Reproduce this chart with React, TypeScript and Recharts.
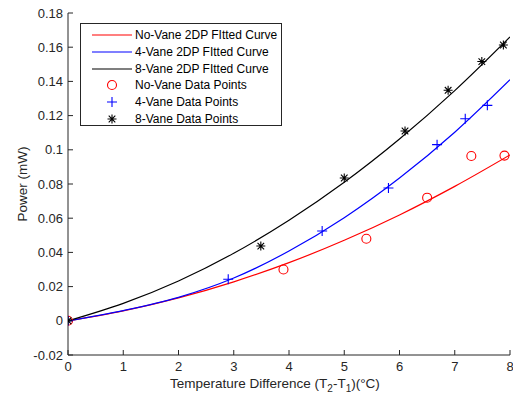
import React from "react";
import { ComposedChart, Line, Scatter, XAxis, YAxis } from "recharts";

// fitted curves, read at whole-degree steps
const curveX = [0, 1, 2, 3, 4, 5, 6, 7, 8];
const noVaneCurve = [0, 0.0058, 0.0134, 0.0228, 0.034, 0.0471, 0.0619, 0.0786, 0.097];
const fourVaneCurve = [0, 0.006, 0.0137, 0.025, 0.0408, 0.0603, 0.0835, 0.1103, 0.141];
const eightVaneCurve = [0, 0.0102, 0.0233, 0.0395, 0.0588, 0.081, 0.1063, 0.1346, 0.166];

// measured points
const noVaneX = [0, 3.9, 5.4, 6.5, 7.3, 7.9];
const noVaneY = [0, 0.03, 0.048, 0.072, 0.0964, 0.0966];
const fourVaneX = [0, 2.9, 4.6, 5.8, 6.68, 7.19, 7.59];
const fourVaneY = [0, 0.0243, 0.0525, 0.0777, 0.103, 0.1182, 0.126];
const eightVaneX = [0, 3.49, 5.0, 6.1, 6.88, 7.49, 7.88];
const eightVaneY = [0, 0.0437, 0.0835, 0.111, 0.1348, 0.1516, 0.1613];

const xTicks = [0, 1, 2, 3, 4, 5, 6, 7, 8];
const yTicks = [-0.02, 0, 0.02, 0.04, 0.06, 0.08, 0.1, 0.12, 0.14, 0.16, 0.18];

const legendNames = [
  "No-Vane 2DP FItted Curve",
  "4-Vane 2DP FItted Curve",
  "8-Vane 2DP FItted Curve",
  "No-Vane Data Points",
  "4-Vane Data Points",
  "8-Vane Data Points",
];

const FONT = "'Liberation Sans', Arial, sans-serif";
const AXIS = "#262626";

const toRows = (xs: number[], ys: number[]) => xs.map((x, i) => ({ x, y: ys[i] }));

const Circle = ({ cx, cy }: any) => (
  <circle cx={cx} cy={cy} r={4.5} fill="none" stroke="#ff0000" strokeWidth={1.1} />
);

const Plus = ({ cx, cy }: any) => (
  <path d={`M${cx - 5},${cy}H${cx + 5}M${cx},${cy - 5}V${cy + 5}`} stroke="#0000ff" strokeWidth={1.1} />
);

const Star = ({ cx, cy }: any) => (
  <path
    d={`M${cx - 4.5},${cy}H${cx + 4.5}M${cx},${cy - 4.5}V${cy + 4.5}M${cx - 3.3},${cy - 3.3}L${cx + 3.3},${cy + 3.3}M${cx - 3.3},${cy + 3.3}L${cx + 3.3},${cy - 3.3}`}
    stroke="#000"
    strokeWidth={1.1}
  />
);

const LegendIcon = ({ i }: { i: number }) => {
  const colors = ["#ff0000", "#0000ff", "#000000"];
  return (
    <svg width={54} height={14} style={{ display: "block" }}>
      {i < 3 ? (
        <line x1={11} x2={51} y1={7} y2={7} stroke={colors[i]} strokeWidth={1.2} />
      ) : i === 3 ? (
        <Circle cx={31} cy={7} />
      ) : i === 4 ? (
        <Plus cx={31} cy={7} />
      ) : (
        <Star cx={31} cy={7} />
      )}
    </svg>
  );
};

export default function App() {
  return (
    <div style={{ position: "relative", width: 513, height: 404, marginTop: -8, fontFamily: FONT }}>
      <ComposedChart
        width={513}
        height={404}
        margin={{ top: 13, right: 11, left: 0, bottom: 0 }}
        style={{ overflow: "visible" }}
      >
        <XAxis
          type="number"
          dataKey="x"
          domain={[0, 8]}
          ticks={xTicks}
          interval={0}
          height={49}
          stroke={AXIS}
          tickSize={-5}
          tickMargin={12}
          tick={{ fill: AXIS, fontSize: 13, fontFamily: FONT }}
          allowDataOverflow
        />
        <YAxis
          type="number"
          domain={[-0.02, 0.18]}
          ticks={yTicks}
          interval={0}
          width={60}
          stroke={AXIS}
          tickSize={-5}
          tickMargin={10}
          tick={{ fill: AXIS, fontSize: 13, fontFamily: FONT }}
          allowDataOverflow
        />
        <Line
          data={toRows(curveX, noVaneCurve)}
          dataKey="y"
          type="monotone"
          stroke="#ff0000"
          strokeWidth={1.2}
          dot={false}
          isAnimationActive={false}
        />
        <Line
          data={toRows(curveX, fourVaneCurve)}
          dataKey="y"
          type="monotone"
          stroke="#0000ff"
          strokeWidth={1.2}
          dot={false}
          isAnimationActive={false}
        />
        <Line
          data={toRows(curveX, eightVaneCurve)}
          dataKey="y"
          type="monotone"
          stroke="#000000"
          strokeWidth={1.2}
          dot={false}
          isAnimationActive={false}
        />
        <Scatter data={toRows(noVaneX, noVaneY)} dataKey="y" shape={<Circle />} isAnimationActive={false} />
        <Scatter data={toRows(fourVaneX, fourVaneY)} dataKey="y" shape={<Plus />} isAnimationActive={false} />
        <Scatter data={toRows(eightVaneX, eightVaneY)} dataKey="y" shape={<Star />} isAnimationActive={false} />
        <text
          x={14}
          y={184}
          transform="rotate(-90 14 184)"
          textAnchor="middle"
          dominantBaseline="central"
          fontSize={13.5}
          fill={AXIS}
          fontFamily={FONT}
        >
          Power (mW)
        </text>
        <text x={162} y={388} fontSize={13.5} fill={AXIS} fontFamily={FONT}>
          Temperature Difference (T
          <tspan fontSize={10} dy={4}>2</tspan>
          <tspan dy={-4}>-T</tspan>
          <tspan fontSize={10} dy={4}>1</tspan>
          <tspan dy={-4}>)(°C)</tspan>
        </text>
      </ComposedChart>
      <div
        style={{
          position: "absolute",
          left: 72,
          top: 23,
          width: 202,
          height: 103,
          border: `1px solid ${AXIS}`,
          background: "#fff",
          paddingTop: 3,
          boxSizing: "border-box",
        }}
      >
        {legendNames.map((name, i) => (
          <div key={name} style={{ display: "flex", alignItems: "center", height: 16.7 }}>
            <LegendIcon i={i} />
            <span style={{ fontSize: 12, color: "#000", whiteSpace: "nowrap" }}>{name}</span>
          </div>
        ))}
      </div>
    </div>
  );
}
